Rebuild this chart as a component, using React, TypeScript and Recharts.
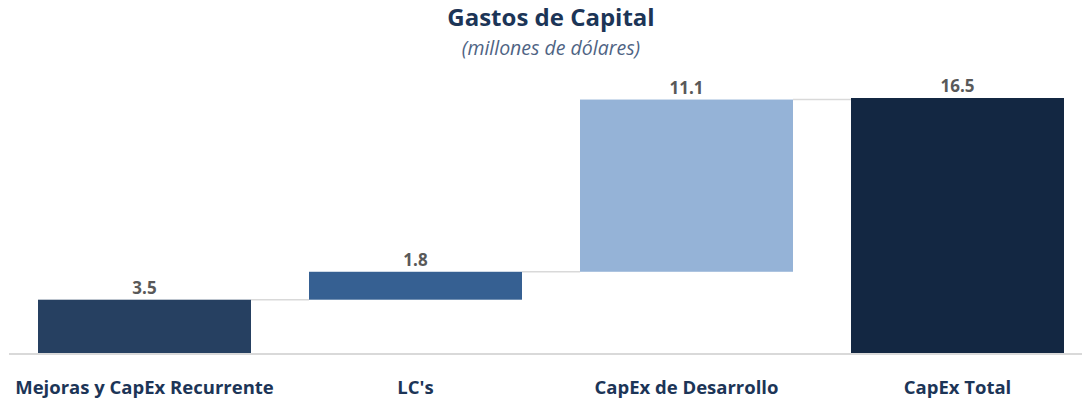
import React from "react";
import { BarChart, Bar, XAxis, YAxis, Cell, LabelList } from "recharts";

const categories = ["Mejoras y CapEx Recurrente", "LC's", "CapEx de Desarrollo", "CapEx Total"];
const values = [3.5, 1.8, 11.1, 16.5];
const isTotal = [false, false, false, true];
const colors = ["#264061", "#366092", "#95b3d7", "#132742"];

let running = 0;
const data = categories.map((name, i) => {
  const base = isTotal[i] ? 0 : running;
  if (!isTotal[i]) running += values[i];
  return { name, base, value: values[i] };
});

const BAR_GAP = 58;
const FONT = "'Open Sans', Lato, sans-serif";

const StepBar = (props: any) => {
  const { x, y, width, height, fill, index } = props;
  return (
    <g>
      <rect x={x} y={y} width={width} height={height} fill={fill} />
      {index < values.length - 1 && (
        <line x1={x + width} x2={x + width + BAR_GAP} y1={y} y2={y} stroke="#d9d9d9" strokeWidth={1.5} />
      )}
    </g>
  );
};

export default function App() {
  return (
    <div style={{ position: "absolute", left: 0, top: 0, width: 1082, height: 402, overflow: "hidden", background: "#fff", fontFamily: FONT }}>
      <div style={{ position: "absolute", top: 0, left: 20, width: 1062, textAlign: "center", fontSize: 24, fontWeight: 700, color: "#1c3557" }}>
        Gastos de Capital
      </div>
      <div style={{ position: "absolute", top: 34, left: 20, width: 1062, textAlign: "center", fontSize: 19.5, fontStyle: "italic", color: "#4f6484" }}>
        (millones de dólares)
      </div>
      <BarChart
        width={1100}
        height={402}
        data={data}
        margin={{ top: 98, right: 7, left: 9, bottom: 0 }}
        barSize={213}
      >
        <XAxis
          dataKey="name"
          height={48}
          tickLine={false}
          tickSize={0}
          tickMargin={27}
          axisLine={{ stroke: "#d9d9d9", strokeWidth: 2 }}
          tick={{ fontSize: 18.5, fontWeight: 700, fill: "#1c3557", fontFamily: FONT }}
          interval={0}
        />
        <YAxis hide domain={[0, 16.5]} />
        <Bar dataKey="base" stackId="w" fill="transparent" isAnimationActive={false} />
        <Bar dataKey="value" stackId="w" shape={<StepBar />} isAnimationActive={false}>
          {data.map((d, i) => (
            <Cell key={d.name} fill={colors[i]} />
          ))}
          <LabelList
            dataKey="value"
            position="top"
            offset={6}
            formatter={(v: any) => Number(v).toFixed(1)}
            style={{ fontSize: 17, fontWeight: 700, fill: "#595959", fontFamily: FONT }}
          />
        </Bar>
      </BarChart>
    </div>
  );
}
